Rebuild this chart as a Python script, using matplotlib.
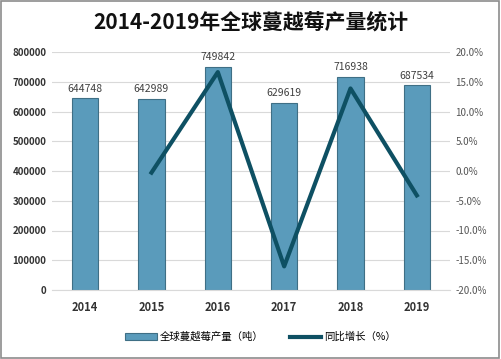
import matplotlib.pyplot as plt
from matplotlib.patches import Rectangle

plt.rcParams['font.family'] = ['Noto Sans CJK SC', 'DejaVu Sans']

years = ['2014', '2015', '2016', '2017', '2018', '2019']
output = [644748, 642989, 749842, 629619, 716938, 687534]
growth_years = ['2015', '2016', '2017', '2018', '2019']
growth = [-0.27, 16.62, -16.03, 13.87, -4.10]
left_ticks = [0, 100000, 200000, 300000, 400000, 500000, 600000, 700000, 800000]
right_ticks = [-20, -15, -10, -5, 0, 5, 10, 15, 20]

fig = plt.figure(figsize=(5.01, 3.59), dpi=100)
fig.patches.append(Rectangle((0.002, 0.003), 0.995, 0.994, transform=fig.transFigure,
                             fill=False, edgecolor='#8c8c8c', lw=1.2))

ax = fig.add_axes([52 / 501, 1 - 290 / 359, 398 / 501, 238 / 359])
xs = list(range(len(years)))
bars = ax.bar(xs, output, width=0.4, color='#5a9bbb', edgecolor='#3f6f85', lw=0.8, zorder=2)
for x, v in zip(xs, output):
    ax.text(x, v + 15000, str(v), ha='center', va='bottom', fontsize=7.5, color='#404040')

ax.set_xlim(-0.5, len(years) - 0.5)
ax.set_ylim(0, 800000)
ax.set_yticks(left_ticks)
ax.set_yticklabels([str(t) for t in left_ticks], fontsize=7, fontweight='bold', color='#333333')
ax.set_xticks(xs)
ax.set_xticklabels(years, fontsize=8, fontweight='bold', color='#333333')
ax.grid(axis='y', color='#d9d9d9', lw=0.8, zorder=0)
for s in ax.spines.values():
    s.set_visible(False)
ax.spines['bottom'].set_visible(True)
ax.spines['bottom'].set_color('#d9d9d9')
ax.tick_params(length=0, pad=4)
ax.tick_params(axis='x', pad=8)

ax2 = ax.twinx()
gx = [years.index(y) for y in growth_years]
line, = ax2.plot(gx, growth, color='#0e5063', lw=3, zorder=3)
ax2.set_ylim(-20, 20)
ax2.set_yticks(right_ticks)
ax2.set_yticklabels([f'{t:.1f}%' for t in right_ticks], fontsize=7, color='#555555')
for s in ax2.spines.values():
    s.set_visible(False)
ax2.tick_params(length=0, pad=4)

fig.text(0.5, 1 - 22 / 359, '2014-2019年全球蔓越莓产量统计', ha='center', va='center',
         fontsize=15, fontweight='bold', color='#111111')

fig.legend([bars, line], ['全球蔓越莓产量（吨）', '同比增长（%）'], loc='center',
           bbox_to_anchor=(0.52, 1 - 337 / 359), ncol=2, frameon=False, fontsize=7.5,
           handlelength=3, columnspacing=2.5, handletextpad=0.3)

fig.savefig('out.png', dpi=100)
